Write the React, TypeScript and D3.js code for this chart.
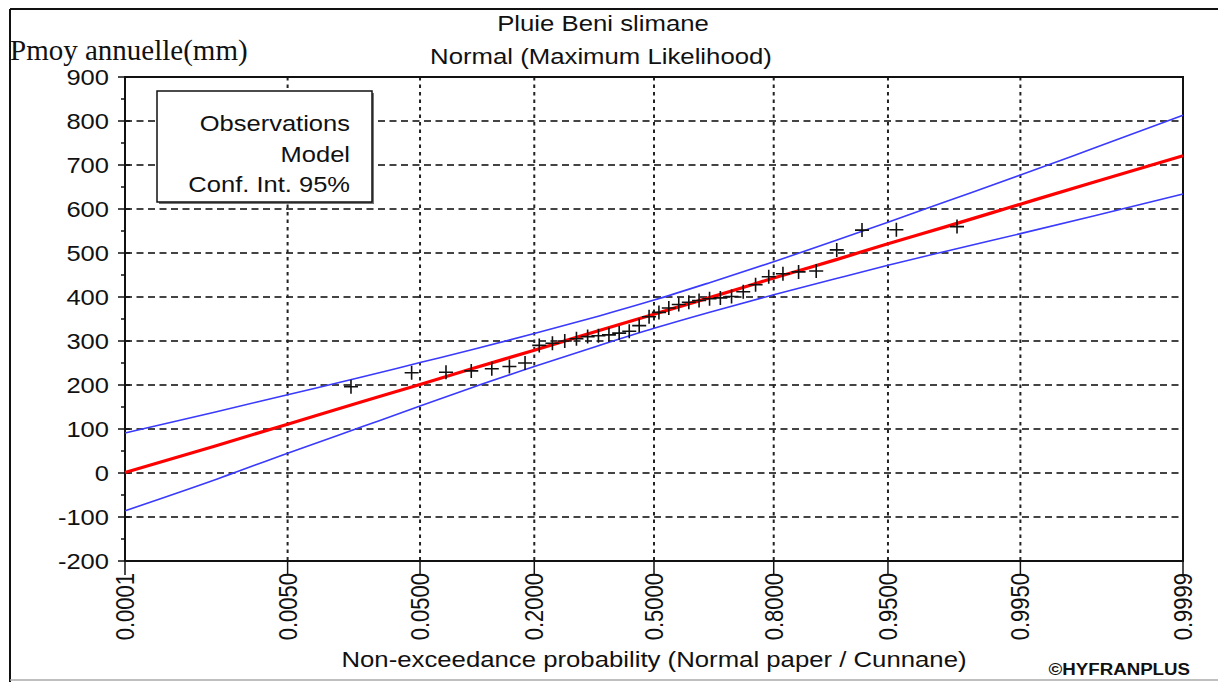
import React, { useEffect, useRef } from 'react';
import * as d3 from 'd3';

const yTicks = [900, 800, 700, 600, 500, 400, 300, 200, 100, 0, -100, -200];
const probTicks = [0.0001, 0.005, 0.05, 0.2, 0.5, 0.8, 0.95, 0.995, 0.9999];
// observed annual rainfall, sorted (plotted with Cunnane positions)
const observations = [196, 228, 229, 232, 237, 242, 250, 290, 295, 300, 305, 310, 312, 314, 318, 322, 335, 355,
  365, 375, 383, 388, 392, 396, 398, 401, 412, 428, 446, 453, 457, 459, 507, 552, 553, 560];
const curveProbs = [0.0001, 0.001, 0.005, 0.02, 0.05, 0.1, 0.2, 0.35, 0.5, 0.65, 0.8, 0.9, 0.95, 0.98, 0.995, 0.999, 0.9999];
const modelValues = [1, 61, 111, 162, 201, 237, 279, 324, 361, 398, 443, 485, 521, 560, 611, 661, 721];
const upperValues = [91, 138, 178, 218, 251, 280, 317, 357, 393, 432, 480, 529, 570, 617, 677, 738, 813];
const lowerValues = [-86, -16, 45, 105, 152, 194, 242, 290, 329, 365, 405, 442, 472, 504, 544, 584, 634];
const legendLabels = ['Observations', 'Model', 'Conf. Int. 95%'];

const SANS = "'Liberation Sans', Arial, sans-serif";
const SERIF = "'Liberation Serif', 'Times New Roman', serif";

// inverse normal cdf (Acklam), used for the normal-probability axis
const probit = (p: number) => {
  const a = [-39.69683028665376, 220.9460984245205, -275.9285104469687, 138.357751867269, -30.66479806614716, 2.506628277459239];
  const b = [-54.47609879822406, 161.5858368580409, -155.6989798598866, 66.80131188771972, -13.28068155288572];
  const c = [-0.007784894002430293, -0.3223964580411365, -2.400758277161838, -2.549732539343734, 4.374664141464968, 2.938163982698783];
  const d = [0.007784695709041462, 0.3224671290700398, 2.445134137142996, 3.754408661907416];
  const tail = (q: number) =>
    (((((c[0] * q + c[1]) * q + c[2]) * q + c[3]) * q + c[4]) * q + c[5]) /
    ((((d[0] * q + d[1]) * q + d[2]) * q + d[3]) * q + 1);
  if (p < 0.02425) return tail(Math.sqrt(-2 * Math.log(p)));
  if (p > 1 - 0.02425) return -tail(Math.sqrt(-2 * Math.log(1 - p)));
  const q = p - 0.5;
  const r = q * q;
  return ((((((a[0] * r + a[1]) * r + a[2]) * r + a[3]) * r + a[4]) * r + a[5]) * q) /
    (((((b[0] * r + b[1]) * r + b[2]) * r + b[3]) * r + b[4]) * r + 1);
};

const App = () => {
  const ref = useRef<HTMLDivElement>(null);

  useEffect(() => {
    if (!ref.current) return;
    d3.select(ref.current).selectAll('*').remove();
    const svg = d3.select(ref.current).append('svg').attr('width', 1218).attr('height', 682)
      .style('display', 'block');

    const left = 125, right = 1183, top = 77, bottom = 561;
    const zScale = d3.scaleLinear().domain([probit(0.0001), probit(0.9999)]).range([left, right]);
    const x = (p: number) => zScale(probit(p));
    const y = d3.scaleLinear().domain([-200, 900]).range([bottom, top]);

    const stretchText = (tx: number, ty: number, txt: string, anchor: string, size: number, sx: number) =>
      svg.append('text')
        .attr('transform', `translate(${tx},${ty}) scale(${sx},1)`)
        .attr('text-anchor', anchor)
        .style('font-family', SANS)
        .style('font-size', size + 'px')
        .attr('fill', '#111')
        .text(txt);

    // outer frame
    svg.append('line').attr('x1', 10).attr('x2', 1218).attr('y1', 9).attr('y2', 9).attr('stroke', '#111').attr('stroke-width', 2);
    svg.append('line').attr('x1', 10).attr('x2', 10).attr('y1', 9).attr('y2', 682).attr('stroke', '#111').attr('stroke-width', 2);
    svg.append('line').attr('x1', 10).attr('x2', 1218).attr('y1', 680).attr('y2', 680).attr('stroke', '#aaa').attr('stroke-width', 1.5);

    // titles
    stretchText(603, 31, 'Pluie Beni slimane', 'middle', 22, 1.17);
    stretchText(601, 64, 'Normal (Maximum Likelihood)', 'middle', 22, 1.17);
    svg.append('text').attr('x', 10).attr('y', 60)
      .style('font-family', SERIF).style('font-size', '29px').attr('fill', '#111')
      .text('Pmoy annuelle(mm)');

    // grid
    svg.append('g').selectAll('line')
      .data(yTicks.filter(v => v !== 900 && v !== -200))
      .join('line')
      .attr('x1', left).attr('x2', right)
      .attr('y1', d => y(d)).attr('y2', d => y(d))
      .attr('stroke', '#444').attr('stroke-width', 2).attr('stroke-dasharray', '7,4.5');

    svg.append('g').selectAll('line')
      .data(probTicks.slice(1, -1))
      .join('line')
      .attr('x1', d => x(d)).attr('x2', d => x(d))
      .attr('y1', top).attr('y2', bottom)
      .attr('stroke', '#222').attr('stroke-width', 2).attr('stroke-dasharray', '3.5,4');

    // plot frame
    svg.append('rect').attr('x', left).attr('y', top).attr('width', right - left).attr('height', bottom - top)
      .attr('fill', 'none').attr('stroke', '#111').attr('stroke-width', 2);

    // y ticks
    svg.append('g').selectAll('line')
      .data(yTicks)
      .join('line')
      .attr('x1', 118).attr('x2', 130)
      .attr('y1', d => y(d)).attr('y2', d => y(d))
      .attr('stroke', '#111').attr('stroke-width', 1.5);
    svg.append('g').selectAll('line')
      .data(d3.range(-150, 900, 100))
      .join('line')
      .attr('x1', 121).attr('x2', 126)
      .attr('y1', d => y(d)).attr('y2', d => y(d))
      .attr('stroke', '#111').attr('stroke-width', 1.5);
    yTicks.forEach(v => stretchText(109, y(v) + 8, String(v), 'end', 22, 1.16));

    // x ticks
    svg.append('g').selectAll('line')
      .data(probTicks)
      .join('line')
      .attr('x1', d => x(d)).attr('x2', d => x(d))
      .attr('y1', bottom).attr('y2', bottom + 14)
      .attr('stroke', '#111').attr('stroke-width', 1.5);
    svg.append('g').selectAll('text')
      .data(probTicks)
      .join('text')
      .attr('transform', d => `translate(${x(d)},573) scale(1.17,1) rotate(-90)`)
      .attr('text-anchor', 'end')
      .attr('dy', '0.35em')
      .style('font-family', SANS)
      .style('font-size', '22px')
      .attr('fill', '#111')
      .text(d => d3.format('.4f')(d));

    stretchText((left + right) / 2, 667, 'Non-exceedance probability (Normal paper / Cunnane)', 'middle', 22, 1.17);
    svg.append('text')
      .attr('transform', 'translate(1190,675) scale(1.1,1)')
      .attr('text-anchor', 'end')
      .style('font-family', SANS).style('font-size', '17px').style('font-weight', 'bold')
      .attr('fill', '#111')
      .text('©HYFRANPLUS');

    // curves
    const line = d3.line<number>()
      .x((_, i) => x(curveProbs[i]))
      .y(d => y(d))
      .curve(d3.curveMonotoneX);

    [upperValues, lowerValues].forEach(vals => {
      svg.append('path').attr('d', line(vals)).attr('fill', 'none')
        .attr('stroke', '#3a3aff').attr('stroke-width', 1.6);
    });
    svg.append('path').attr('d', line(modelValues)).attr('fill', 'none')
      .attr('stroke', '#ff0000').attr('stroke-width', 3.2);

    // observations
    const n = observations.length;
    svg.append('g').selectAll('path')
      .data(observations)
      .join('path')
      .attr('d', (d, i) => {
        const px = x((i + 1 - 0.4) / (n + 0.2));
        const py = y(d);
        return `M${px - 7},${py}H${px + 7}M${px},${py - 7}V${py + 7}`;
      })
      .attr('stroke', '#111').attr('stroke-width', 1.6).attr('fill', 'none');

    // legend
    svg.append('rect').attr('x', 159).attr('y', 93).attr('width', 215).attr('height', 111).attr('fill', '#777');
    svg.append('rect').attr('x', 157).attr('y', 91).attr('width', 215).attr('height', 111)
      .attr('fill', 'white').attr('stroke', '#111').attr('stroke-width', 1.5);
    legendLabels.forEach((t, i) => stretchText(350, 131 + i * 30.5, t, 'end', 22, 1.16));
  }, []);

  return <div ref={ref} style={{ position: 'absolute', left: 0, top: 0 }} />;
};

export default App;
